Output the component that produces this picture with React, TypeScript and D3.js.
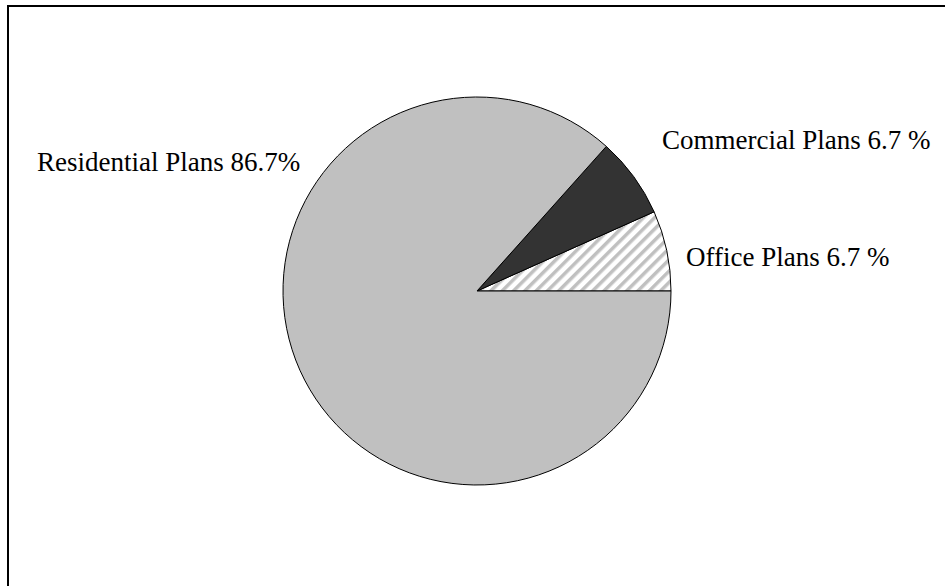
import React from "react";
import * as d3 from "d3";

const categories = ["Office Plans", "Commercial Plans", "Residential Plans"];
const values = [6.7, 6.7, 86.7];
const labels = ["Office Plans 6.7 %", "Commercial Plans 6.7 %", "Residential Plans 86.7%"];

export default function App() {
  const W = 945, H = 586;
  const cx = 477, cy = 291, r = 194;
  const pie = d3
    .pie<number>()
    .sort(null)
    .value((d) => d)
    .startAngle(Math.PI / 2)
    .endAngle(Math.PI / 2 - 2 * Math.PI);
  const arcs = pie(values);
  const arc = d3.arc<d3.PieArcDatum<number>>().innerRadius(0).outerRadius(r);
  const fills = ["url(#hatch)", "#333333", "#c0c0c0"];
  const labelPos = [
    { x: 686, y: 266 },
    { x: 662, y: 149 },
    { x: 37, y: 171 },
  ];
  return (
    <svg
      width={W}
      height={H}
      style={{ position: "absolute", left: 0, top: 0 }}
    >
      <defs>
        <pattern id="hatch" patternUnits="userSpaceOnUse" width="8" height="8" patternTransform="rotate(45)">
          <rect width="8" height="8" fill="#ffffff" />
          <rect x="0" y="0" width="3.5" height="8" fill="#c0c0c0" />
        </pattern>
      </defs>
      <rect x={0} y={0} width={W} height={H} fill="#fff" />
      <rect x={8} y={6} width={W + 10} height={H + 10} fill="none" stroke="#000" strokeWidth={2} />
      <g transform={`translate(${cx},${cy})`}>
        {arcs.map((a, i) => (
          <path key={categories[i]} d={arc(a) || ""} fill={fills[i]} stroke="#000" strokeWidth={1} />
        ))}
      </g>
      {labels.map((t, i) => (
        <text
          key={t}
          x={labelPos[i].x}
          y={labelPos[i].y}
          fontFamily="'Liberation Serif', 'Times New Roman', serif"
          fontSize={27}
          fill="#000"
        >
          {t}
        </text>
      ))}
    </svg>
  );
}
